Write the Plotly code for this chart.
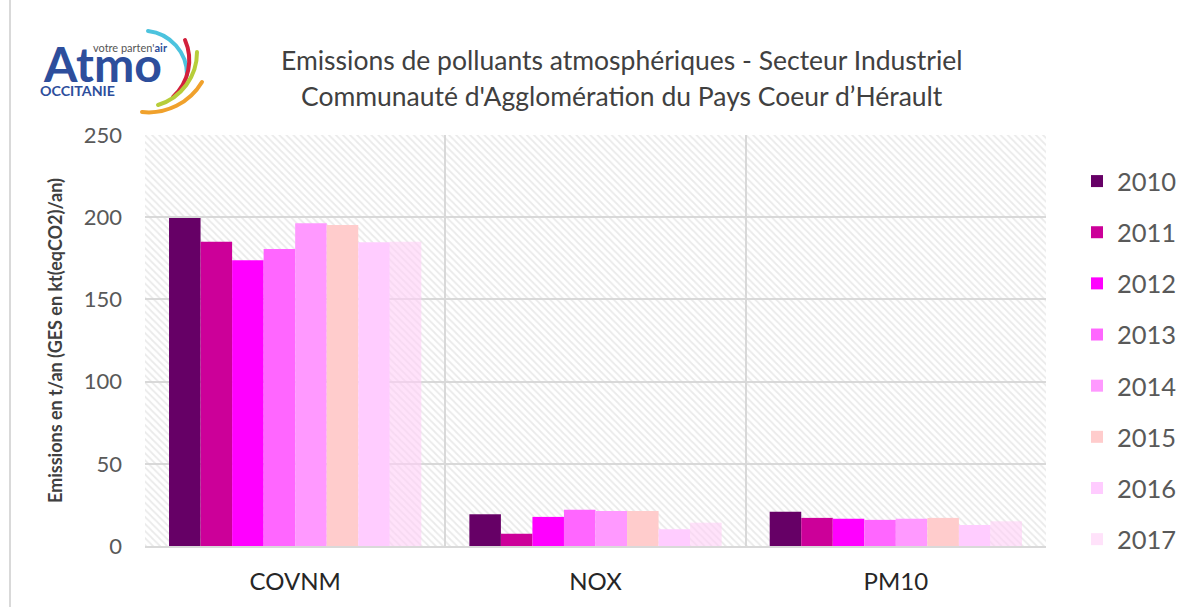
import base64
import plotly.graph_objects as go

categories = ["COVNM", "NOX", "PM10"]
years = ["2010", "2011", "2012", "2013", "2014", "2015", "2016", "2017"]
v2010 = [199.5, 19.3, 20.9]
v2011 = [185.0, 7.5, 17.1]
v2012 = [173.8, 17.7, 16.5]
v2013 = [180.7, 22.1, 15.9]
v2014 = [196.3, 21.3, 16.5]
v2015 = [195.3, 21.3, 17.1]
v2016 = [184.7, 10.2, 12.8]
v2017 = [185.0, 14.2, 15.0]
series = [v2010, v2011, v2012, v2013, v2014, v2015, v2016, v2017]
colors = ["#660066", "#CC0099", "#FF00FF", "#FF66FF", "#FF99FF", "#FFCCCC",
          "#FFCCFF", "rgba(255,206,246,0.6)"]
y_max = 250
y_ticks = [0, 50, 100, 150, 200, 250]

W, H = 1187, 607
L, R, T, B = 145, 1046, 135, 546


def px(x):
    return (x - L) / (R - L)


def py(y):
    return (B - y) / (B - T)


FONT = "Lato, 'Open Sans', sans-serif"

fig = go.Figure()

# hatched plot-area background (drawn on the base axes, beneath the data)
fig.add_trace(go.Bar(
    x=[0.5], y=[y_max], width=[1], xaxis="x", yaxis="y",
    marker=dict(color="rgba(0,0,0,0)", line=dict(width=0),
                pattern=dict(shape="\\", fgcolor="#d6d6d6", bgcolor="rgba(0,0,0,0)",
                             size=5, solidity=0.35, fillmode="overlay")),
    showlegend=False, hoverinfo="skip"))

for i, (yr, vals) in enumerate(zip(years, series)):
    fig.add_trace(go.Bar(
        name=yr, x=categories, y=vals, xaxis="x2", yaxis="y2",
        marker=dict(color=colors[i], line=dict(width=0)),
        legendgroup=yr))

# logo as inline SVG
svg = '''<svg xmlns="http://www.w3.org/2000/svg" width="240" height="130" viewBox="0 0 240 130">
<text x="93" y="52" textLength="74" lengthAdjust="spacingAndGlyphs" font-family="Lato, DejaVu Sans, sans-serif" font-size="12" fill="#555">votre parten'<tspan font-weight="bold" fill="#2d4e9c">air</tspan></text>
<text x="44" y="82" textLength="118" lengthAdjust="spacingAndGlyphs" font-family="Lato, DejaVu Sans, sans-serif" font-size="47" font-weight="bold" fill="#2d4e9c">Atmo</text>
<text x="40" y="96" textLength="75" lengthAdjust="spacingAndGlyphs" font-family="Lato, DejaVu Sans, sans-serif" font-size="12.5" font-weight="bold" fill="#2d4e9c">OCCITANIE</text>
<path d="M148,31 A44,44 0 0 1 187,75" fill="none" stroke="#4cc3de" stroke-width="4" stroke-linecap="round"/>
<path d="M185,40 A50,50 0 0 1 173,97" fill="none" stroke="#d2203c" stroke-width="4" stroke-linecap="round"/>
<path d="M197,52 A55,55 0 0 1 158,105" fill="none" stroke="#b7cd3a" stroke-width="4" stroke-linecap="round"/>
<path d="M202,82 A62,62 0 0 1 142,112" fill="none" stroke="#f0a12c" stroke-width="4" stroke-linecap="round"/>
</svg>'''
src = "data:image/svg+xml;base64," + base64.b64encode(svg.encode()).decode()
fig.add_layout_image(dict(source=src, xref="paper", yref="paper",
                          x=px(0), y=py(0), sizex=240 / (R - L), sizey=130 / (B - T),
                          xanchor="left", yanchor="top", sizing="stretch", layer="above"))

fig.add_annotation(text="Emissions de polluants atmosphériques - Secteur Industriel",
                   xref="paper", yref="paper", x=px(622), y=py(60), showarrow=False,
                   font=dict(family=FONT, size=26.5, color="#404040"), xanchor="center", yanchor="middle")
fig.add_annotation(text="Communauté d'Agglomération du Pays Coeur d’Hérault",
                   xref="paper", yref="paper", x=px(622), y=py(96), showarrow=False,
                   font=dict(family=FONT, size=26.5, color="#404040"), xanchor="center", yanchor="middle")

# left border line of the chart frame
fig.add_shape(type="line", xref="paper", yref="paper", x0=px(10), x1=px(10), y0=py(0), y1=py(H),
              line=dict(color="#d9d9d9", width=2))

fig.update_layout(
    width=W, height=H,
    margin=dict(l=L, r=W - R, t=T, b=H - B, pad=0, autoexpand=False),
    paper_bgcolor="white", plot_bgcolor="white",
    barmode="group", bargap=0.16, bargroupgap=0,
    font=dict(family=FONT, color="#595959"),
    xaxis=dict(range=[0, 1], visible=False, fixedrange=True),
    yaxis=dict(range=[0, y_max], visible=False, fixedrange=True),
    xaxis2=dict(overlaying="x", anchor="y2", type="category", tickson="boundaries",
                showgrid=True, gridcolor="#d9d9d9", gridwidth=2,
                showline=True, linecolor="#d9d9d9", linewidth=2, ticks="",
                tickfont=dict(size=24, color="#262626"), ticklabelstandoff=13),
    yaxis2=dict(overlaying="y", anchor="x2", range=[0, y_max], tickvals=y_ticks,
                showgrid=True, gridcolor="#d9d9d9", gridwidth=2, zeroline=False,
                ticks="", tickfont=dict(size=22, color="#595959"), ticklabelstandoff=22,
                title=dict(text="<b>Emissions en t/an (GES en kt(eqCO2)/an)</b>",
                           font=dict(size=18, color="#404040"), standoff=16)),
    legend=dict(x=px(1077), y=py(158), xanchor="left", yanchor="top",
                font=dict(size=25.5, color="#595959"), tracegroupgap=15,
                bgcolor="rgba(0,0,0,0)"),
    showlegend=True,
)

fig.write_html("out.html", post_script="document.body.style.margin='0';",
               config={"displayModeBar": False})
